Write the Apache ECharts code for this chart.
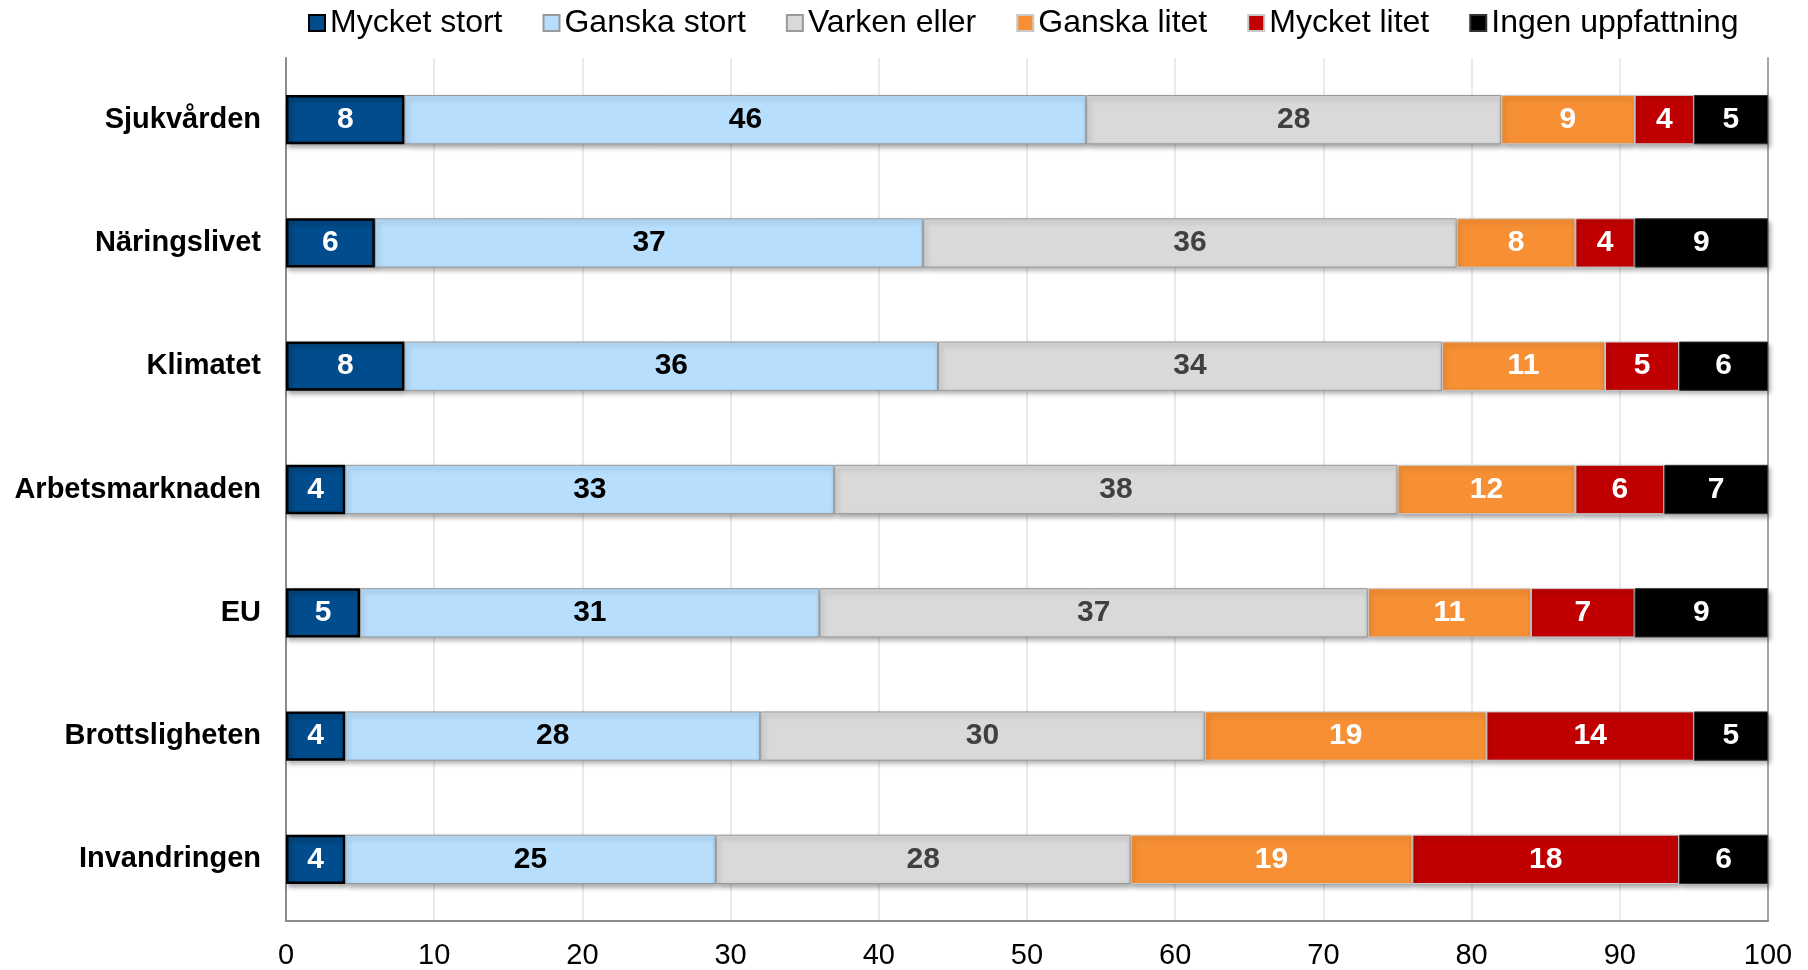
<!DOCTYPE html>
<html>
<head>
<meta charset="utf-8">
<script src="https://cdn.jsdelivr.net/npm/echarts@6/dist/echarts.min.js"></script>
<style>
  html, body { margin: 0; padding: 0; background: #fff; }
  #chart { width: 1808px; height: 970px; }
</style>
</head>
<body>
<div id="chart"></div>
<script>
// kategorier, uppifrån och ned
const categories = ['Sjukvården', 'Näringslivet', 'Klimatet', 'Arbetsmarknaden', 'EU', 'Brottsligheten', 'Invandringen']
const seriesNames = ['Mycket stort', 'Ganska stort', 'Varken eller', 'Ganska litet', 'Mycket litet', 'Ingen uppfattning']

const mycketStort = [8, 6, 8, 4, 5, 4, 4]
const ganskaStort = [46, 37, 36, 33, 31, 28, 25]
const varkenEller = [28, 36, 34, 38, 37, 30, 28]
const ganskaLitet = [9, 8, 11, 12, 11, 19, 19]
const mycketLitet = [4, 4, 5, 6, 7, 14, 18]
const ingenUppfattning = [5, 9, 6, 7, 9, 5, 6]

const xTicks = [0, 10, 20, 30, 40, 50, 60, 70, 80, 90, 100]

const values = [mycketStort, ganskaStort, varkenEller, ganskaLitet, mycketLitet, ingenUppfattning]
const colors = ['#004C8C', '#B7DEFC', '#D9D9D9', '#F79034', '#C00000', '#000000']
const borders = ['#000000', '#9A9A9A', '#9A9A9A', '#C8C8C8', '#C8C8C8', '#333333']
const borderWidths = [2.5, 1, 1, 1, 1, 1]
const labelColors = ['#ffffff', '#000000', '#404040', '#ffffff', '#ffffff', '#ffffff']

const chart = echarts.init(document.getElementById('chart'))

const series = seriesNames.map((name, i) => ({
  name: name,
  type: 'bar',
  stack: 'total',
  barWidth: '40%',
  yAxisIndex: 0,
  data: values[i],
  itemStyle: {
    color: colors[i],
    borderColor: borders[i],
    borderWidth: borderWidths[i],
    shadowColor: 'rgba(0,0,0,0.35)',
    shadowBlur: 5,
    shadowOffsetX: 2,
    shadowOffsetY: 3
  },
  label: {
    show: true,
    position: 'inside',
    color: labelColors[i],
    fontFamily: 'Liberation Sans',
    fontWeight: 'bold',
    fontSize: 30
  }
}))

chart.setOption({
  animation: false,
  color: colors,
  legend: {
    top: 2,
    left: 303,
    icon: 'rect',
    itemWidth: 16,
    itemHeight: 16,
    itemGap: 40,
    textStyle: {
      fontFamily: 'Liberation Sans',
      fontSize: 32,
      color: '#000'
    },
    data: seriesNames
  },
  grid: {
    left: 286,
    right: 40,
    top: 58,
    bottom: 48
  },
  xAxis: {
    type: 'value',
    min: xTicks[0],
    max: xTicks[xTicks.length - 1],
    interval: 10,
    axisLine: { show: true, lineStyle: { color: '#8C8C8C', width: 2 } },
    axisTick: { show: false },
    axisLabel: {
      margin: 20,
      fontFamily: 'Liberation Sans',
      fontSize: 29,
      color: '#000'
    },
    splitLine: { show: true, lineStyle: { color: '#E3E3E3', width: 1.5 } }
  },
  yAxis: [
    {
      type: 'category',
      inverse: true,
      data: categories,
      axisLine: { show: true, lineStyle: { color: '#8C8C8C', width: 2 } },
      axisTick: { show: false },
      axisLabel: {
        margin: 25,
        fontFamily: 'Liberation Sans',
        fontWeight: 'bold',
        fontSize: 29,
        color: '#000'
      }
    },
    {
      type: 'category',
      position: 'right',
      inverse: true,
      data: categories,
      axisLine: { show: true, lineStyle: { color: '#A6A6A6', width: 2 } },
      axisTick: { show: false },
      axisLabel: { show: false }
    }
  ],
  series: series
})
</script>
</body>
</html>
